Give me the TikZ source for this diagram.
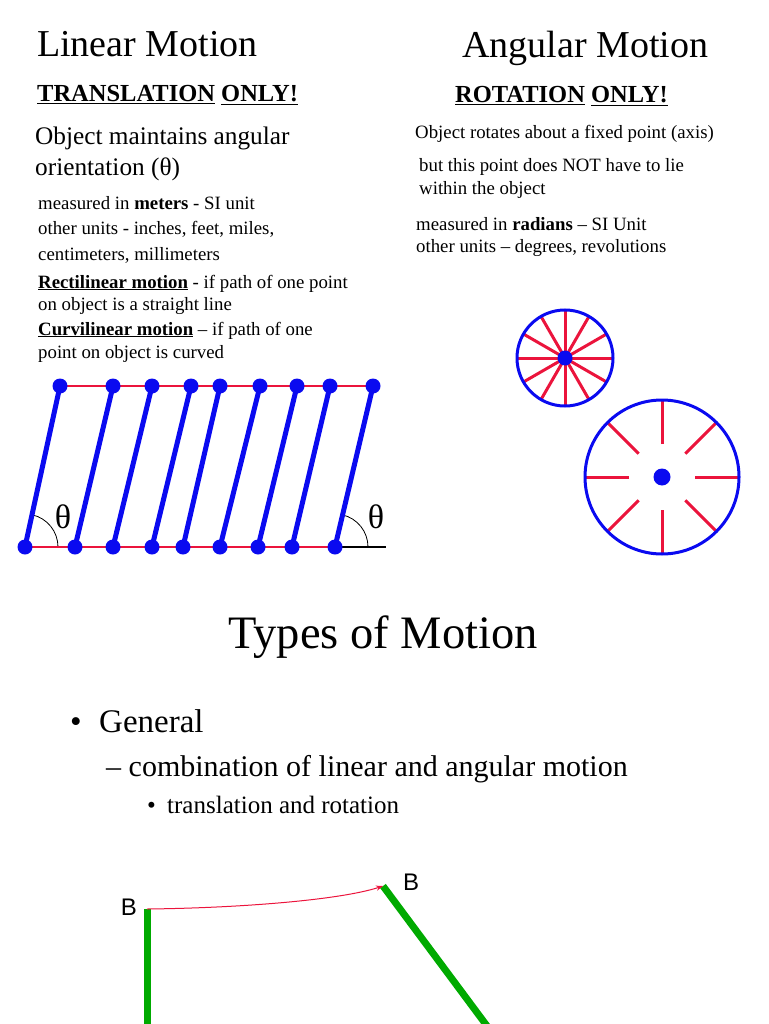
\documentclass[tikz,border=0pt]{standalone}
\usepackage{fontspec}
\setmainfont{Liberation Serif}
\newfontfamily\bsans{Liberation Sans}
\usetikzlibrary{arrows.meta}
\definecolor{pblue}{RGB}{10,10,240}
\definecolor{pred}{RGB}{235,20,60}
\definecolor{pgreen}{RGB}{0,170,0}
\tikzset{
 txt/.style={anchor=base west,inner sep=0pt},
 sm/.style={txt,font=\fontsize{18.8}{20}\selectfont},
 bar/.style={pblue,line width=5pt},
 dot/.style={circle,fill=pblue,inner sep=0pt,minimum size=15pt},
 rline/.style={pred,line width=2.5pt},
 spoke/.style={pred,line width=3pt},
 rim/.style={pblue,line width=3pt},
 grn/.style={pgreen,line width=7pt}
}
\begin{document}
\begin{tikzpicture}[x=1pt,y=-1pt]
\useasboundingbox (0,0) rectangle (768,1024);
% titles
\node[txt,font=\fontsize{38}{42}\selectfont] (t1) at (37,57) {Linear Motion};
\node[txt,font=\fontsize{38}{42}\selectfont] (t2) at (462,58) {Angular Motion};
\node[txt,font=\fontsize{24.5}{28}\selectfont\bfseries] (s1) at (37,102) {\underline{TRANSLATION} \underline{ONLY!}};
\node[txt,font=\fontsize{24.5}{28}\selectfont\bfseries] (s2) at (455,103) {\underline{ROTATION} \underline{ONLY!}};
\node[txt,font=\fontsize{25.3}{28}\selectfont] (o1) at (35,145) {Object maintains angular};
\node[txt,font=\fontsize{25.3}{28}\selectfont] (o2) at (35,176) {orientation (θ)};
\node[sm] (l1) at (38,210) {measured in \textbf{meters} - SI unit};
\node[sm] (l2) at (38,235) {other units - inches, feet, miles,};
\node[sm] (l3) at (38,260) {centimeters, millimeters};
\node[sm] (l4) at (38,288) {\textbf{\underline{Rectilinear motion}} - if path of one point};
\node[sm] (l5) at (38,310) {on object is a straight line};
\node[sm] (l6) at (38,335) {\textbf{\underline{Curvilinear motion}} – if path of one};
\node[sm] (l7) at (38,358) {point on object is curved};
\node[sm] (r1) at (415,139) {Object rotates about a fixed point (axis)};
\node[sm] (r2) at (419,172) {but this point does NOT have to lie};
\node[sm] (r3) at (419,195) {within the object};
\node[sm] (r4) at (416,230) {measured in \textbf{radians} – SI Unit};
\node[sm] (r5) at (416,252) {other units – degrees, revolutions};
% parallelogram motion
\draw[black,line width=2pt] (25,547) -- (36,547) (335,547) -- (386,547);
\draw[black,line width=0.8pt] (25,547) ++(0:33) arc[start angle=0,end angle=-77,radius=33];
\draw[black,line width=0.8pt] (335,547) ++(0:33) arc[start angle=0,end angle=-77,radius=33];
\draw[rline] (60,386) -- (373,386);
\draw[rline] (25,547) -- (335,547);
\foreach \a/\b [count=\i] in {25/60,75/113,113/152,152/191,183/220,220/260,258/297,292/330,335/373}{
  \draw[bar] (\a,547) -- (\b,386);
  \node[dot] (b\i) at (\a,547) {};
  \node[dot] (u\i) at (\b,386) {};
}
\node[font=\fontsize{34}{36}\selectfont] (th1) at (63,517) {θ};
\node[font=\fontsize{34}{36}\selectfont] (th2) at (376,517) {θ};
% wheels
\coordinate (c1) at (565,358);
\foreach \k in {0,30,...,330} \draw[spoke] (c1) -- ++(\k:47);
\draw[rim] (c1) circle[radius=48];
\node[dot] (d1) at (c1) {};
\coordinate (c2) at (662,477);
\foreach \k in {0,45,...,315} \draw[spoke] (c2) ++(\k:33) -- ++(\k:44);
\draw[rim] (c2) circle[radius=77];
\node[dot,minimum size=17pt] (d2) at (c2) {};
% Types of motion
\node[font=\fontsize{46.5}{50}\selectfont,anchor=base] (tm) at (383,648) {Types of Motion};
\node[txt,font=\fontsize{33}{36}\selectfont] (g1) at (70,732) {•};
\node[txt,font=\fontsize{33}{36}\selectfont] (g2) at (99,732) {General};
\node[txt,font=\fontsize{30}{32}\selectfont] (g3) at (106,776) {– combination of linear and angular motion};
\node[txt,font=\fontsize{25}{28}\selectfont] (g4) at (147,813) {•};
\node[txt,font=\fontsize{25}{28}\selectfont] (g5) at (167,813) {translation and rotation};
% general motion
\coordinate (p1) at (147,909);
\coordinate (p2) at (383,886);
\draw[grn] (p1) -- (147,1030);
\draw[grn] (p2) -- (490,1030);
\draw[pred,line width=1pt,-{Stealth[length=7pt]}] (p1) .. controls (240,908) and (340,900) .. (p2);
\node[font=\bsans\fontsize{24}{26}\selectfont] (B1) at (129,907) {B};
\node[font=\bsans\fontsize{24}{26}\selectfont] (B2) at (411,882) {B};
\end{tikzpicture}
\end{document}
